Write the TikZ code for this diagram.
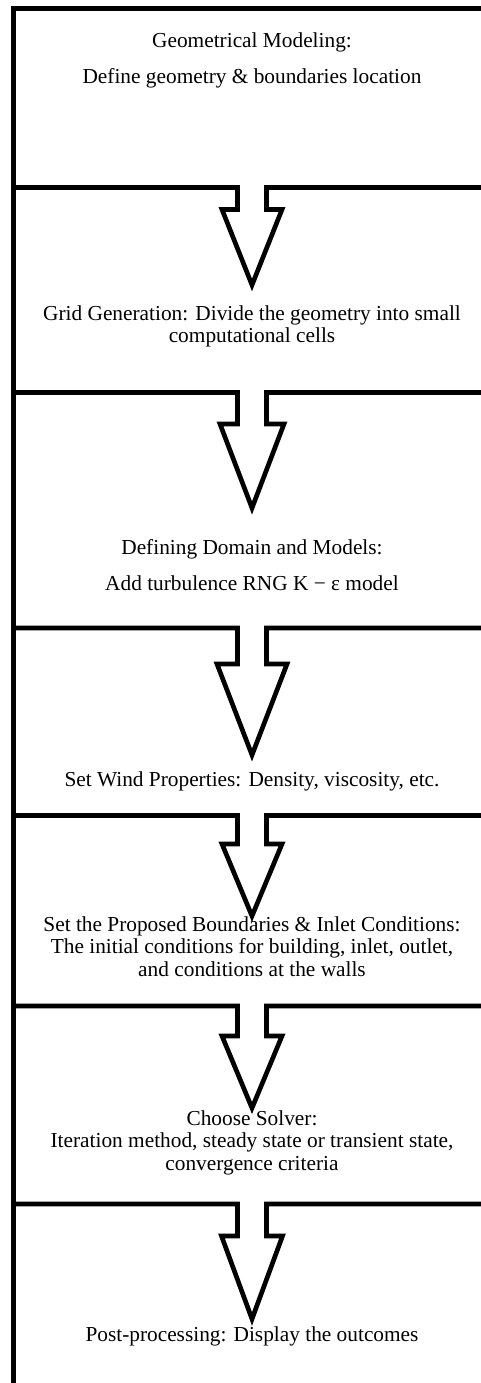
\documentclass[tikz,border=0pt]{standalone}
\usepackage{fontspec}
\setmainfont{Liberation Serif}
\tikzset{
  outline/.style={line width=3.5pt, line join=miter},
  steptext/.style={font=\fontsize{16}{16.75}\selectfont, align=center, anchor=base, inner sep=0pt}
}
\begin{document}
\begin{tikzpicture}[x=0.75pt, y=-0.75pt]
\useasboundingbox (0,0) rectangle (481,1383);
\clip (0,0) rectangle (481,1383);
\draw[outline] (495,8.7) -- (13.5,8.7) -- (13.5,1395);
% separators with the block arrows
\foreach \ys/\yb/\w/\yt in {187.5/209.5/30/285, 392.5/424/32/508, 628/664/35/755,
  815.5/844/30/916, 1006/1036/30/1108, 1204/1236/30.5/1319}
  \draw[outline] (13.5,\ys) -- (237.5,\ys) -- (237.5,\yb) -- ({252-\w},\yb)
    -- (252,\yt) -- ({252+\w},\yb) -- (266.5,\yb) -- (266.5,\ys) -- (495,\ys);
\node[steptext] (geom) at (252,83.3) {Geometrical Modeling:\\[10.25pt] Define geometry \& boundaries location};
\node[steptext] (grid) at (252,342.7) {Grid Generation: Divide the geometry into small\\ computational cells};
\node[steptext] (domain) at (252,590) {Defining Domain and Models:\\[10.25pt] Add turbulence RNG K − ε model};
\node[steptext] (wind) at (252,786.7) {Set Wind Properties: Density, viscosity, etc.};
\node[steptext] (bound) at (252,976) {Set the Proposed Boundaries \& Inlet Conditions:\\ The initial conditions for building, inlet, outlet,\\ and conditions at the walls};
\node[steptext] (solver) at (252,1170) {Choose Solver:\\ Iteration method, steady state or transient state,\\ convergence criteria};
\node[steptext] (post) at (252,1341.7) {Post-processing: Display the outcomes};
\end{tikzpicture}
\end{document}
